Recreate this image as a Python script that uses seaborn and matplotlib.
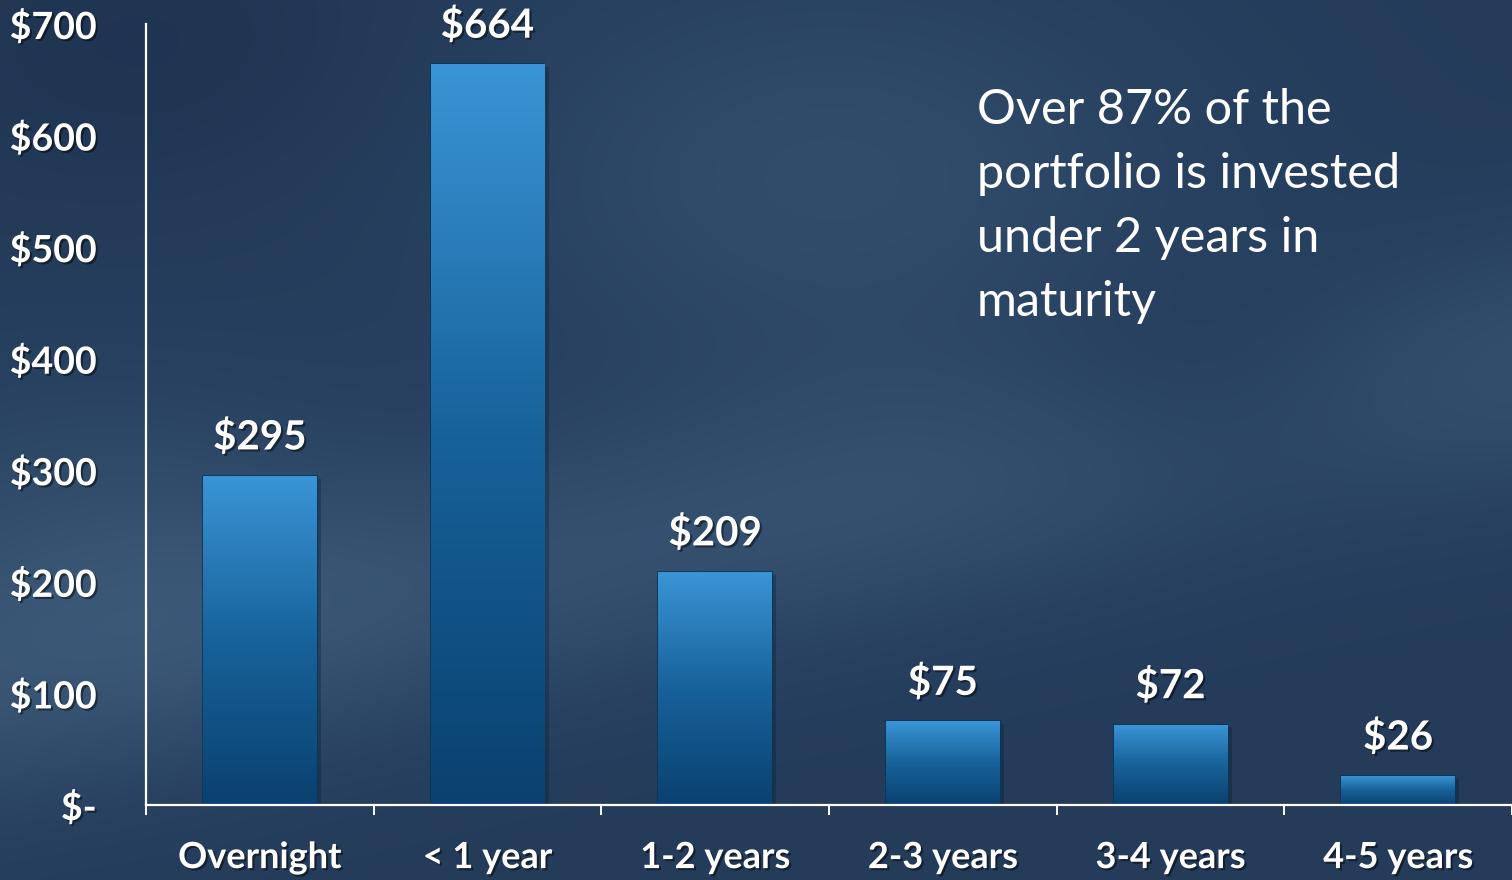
import matplotlib
matplotlib.use('Agg')
import matplotlib.pyplot as plt
import matplotlib.patheffects as pe
from matplotlib.colors import LinearSegmentedColormap
from matplotlib.ticker import FixedLocator
import numpy as np
import pandas as pd
import seaborn as sns

CATEGORIES = ['Overnight', '< 1 year', '1-2 years', '2-3 years', '3-4 years', '4-5 years']
VALUES = [295, 664, 209, 75, 72, 26]
Y_TICKS = [0, 100, 200, 300, 400, 500, 600, 700]
Y_TICK_LABELS = ['$-', '$100', '$200', '$300', '$400', '$500', '$600', '$700']
NOTE = 'Over 87% of the\nportfolio is invested\nunder 2 years in\nmaturity'

FONT = 'Lato'


def money(v):
    return '${:,.0f}'.format(v)


if __name__ == '__main__':
    sns.set_style('white')
    plt.rcParams['font.family'] = [FONT, 'DejaVu Sans']

    df = pd.DataFrame({'Maturity': CATEGORIES, 'Amount': VALUES})

    fig = plt.figure(figsize=(15.12, 8.8), dpi=100)

    # slide-like dark blue background
    bg_ax = fig.add_axes([0, 0, 1, 1], zorder=-10)
    yy, xx = np.mgrid[0:1:220j, 0:1:380j]
    light = 0.35 + 0.35 * np.exp(-((yy - 0.60 + 0.35 * (xx - 0.5)) ** 2) / 0.025)
    light += 0.30 * np.exp(-((xx - 0.55) ** 2 + (yy - 0.2) ** 2) / 0.06)
    light += 0.25 * np.exp(-((xx - 0.05) ** 2 + (yy - 0.6) ** 2) / 0.04)
    light -= 0.20 * np.exp(-((xx - 0.8) ** 2 + (yy - 0.45) ** 2) / 0.02)
    light -= 0.15 * np.exp(-((xx - 0.1) ** 2 + (yy - 0.05) ** 2) / 0.03)
    bg_cmap = LinearSegmentedColormap.from_list('bg', ['#172b46', '#2a4363', '#43607f'])
    bg_ax.imshow(np.clip(light, 0, 1), cmap=bg_cmap, aspect='auto', vmin=0, vmax=1,
                 extent=[0, 1, 0, 1], origin='upper', interpolation='bicubic')
    bg_ax.set_axis_off()

    ax = fig.add_axes([146 / 1512, 75 / 880, 1366 / 1512, 781 / 880])
    ax.set_facecolor('none')

    sns.barplot(data=df, x='Maturity', y='Amount', ax=ax, width=0.5,
                color='#1f6aa5', saturation=1, edgecolor='#0a3558', linewidth=1.2)

    # vertical gradient fill for each bar
    bar_cmap = LinearSegmentedColormap.from_list('bar', ['#0a4170', '#17629a', '#3a95d6'])
    grad = np.linspace(0, 1, 256).reshape(-1, 1)
    for patch in ax.patches:
        x0, y0 = patch.get_x(), patch.get_y()
        w, h = patch.get_width(), patch.get_height()
        im = ax.imshow(grad, cmap=bar_cmap, aspect='auto', origin='lower',
                       extent=[x0, x0 + w, y0, y0 + h], zorder=patch.get_zorder() + 0.1)
        im.set_clip_path(patch)
        patch.set_path_effects([pe.SimplePatchShadow(offset=(3, -2), alpha=0.35), pe.Normal()])

    shadow = [pe.withSimplePatchShadow(offset=(1.5, -1.5), shadow_rgbFace='black', alpha=0.45)]
    for i, v in enumerate(VALUES):
        ax.annotate(money(v), (i, v), xytext=(0, 14), textcoords='offset points',
                    ha='center', va='bottom', color='white', fontsize=29,
                    fontweight='bold', path_effects=shadow, zorder=5)

    ax.set_xlim(-0.5, len(CATEGORIES) - 0.5)
    ax.set_ylim(0, 700)
    ax.set_yticks(Y_TICKS)
    ax.set_yticklabels(Y_TICK_LABELS)
    ax.xaxis.set_minor_locator(FixedLocator(np.arange(-0.5, len(CATEGORIES), 1.0)))
    ax.set_xlabel('')
    ax.set_ylabel('')

    for side in ['top', 'right']:
        ax.spines[side].set_visible(False)
    for side in ['left', 'bottom']:
        ax.spines[side].set_color('white')
        ax.spines[side].set_linewidth(1.6)

    ax.tick_params(axis='y', which='major', direction='out', length=9.5, width=1.4,
                   color='white', labelcolor='white', labelsize=27, pad=26)
    ax.tick_params(axis='x', which='major', length=0, labelcolor='white',
                   labelsize=26, pad=26)
    ax.tick_params(axis='x', which='minor', direction='out', length=7, width=1.4,
                   color='white', bottom=True)
    for lab in ax.get_xticklabels() + ax.get_yticklabels():
        lab.set_fontweight('bold')
        lab.set_path_effects(shadow)

    fig.text(977 / 1512, 1 - 88 / 880, NOTE, color='white', fontsize=35,
             ha='left', va='top', linespacing=1.56)

    plt.savefig('out.png', dpi=100)
